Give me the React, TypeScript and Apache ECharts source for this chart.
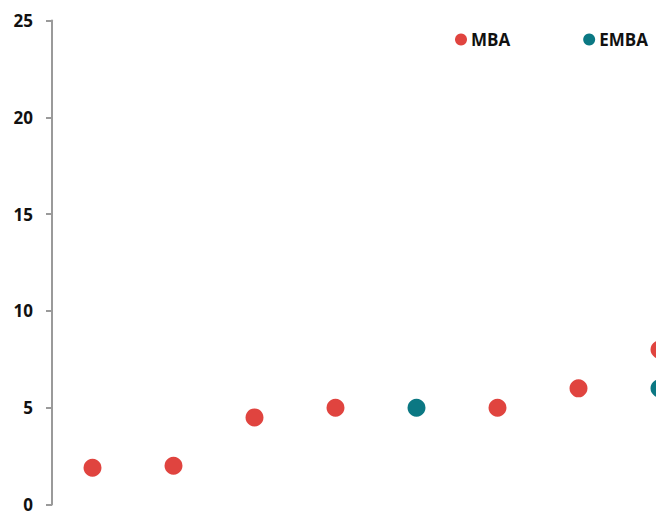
import React, { useEffect, useRef } from "react";
import * as echarts from "echarts";

const categories = [1, 2, 3, 4, 5, 6, 7, 8];
const mbaValues: (number | null)[] = [1.9, 2.0, 4.5, 5.0, null, 5.0, 6.0, 8.0];
const embaValues: (number | null)[] = [null, null, null, null, 5.0, null, null, 6.0];
const yTicks = { min: 0, max: 25, interval: 5 };

const RED = "#E0443F";
const TEAL = "#0B7883";

const toPairs = (vals: (number | null)[]) =>
  categories.map((c, i) => (vals[i] == null ? null : [c, vals[i]])).filter((d) => d !== null);

export default function App() {
  const ref = useRef<HTMLDivElement>(null);
  useEffect(() => {
    document.body.style.margin = "0";
    const chart = echarts.init(ref.current!, null, { renderer: "svg" });
    const FONT = "Open Sans";
    chart.setOption({
      animation: false,
      textStyle: { fontFamily: FONT },
      legend: {
        left: 450,
        top: 26,
        icon: "circle",
        itemWidth: 12,
        itemHeight: 12,
        itemGap: 73,
        textStyle: { fontSize: 17, fontWeight: "bold", color: "#111", fontFamily: FONT, padding: [0, 0, 0, -1] },
        data: ["MBA", "EMBA"],
      },
      grid: { left: 52, top: 20.5, right: 0, height: 486.5, containLabel: false },
      xAxis: {
        type: "value",
        min: 0.5,
        max: 0.5 + 604 / 81,
        axisLine: { show: false },
        axisTick: { show: false },
        axisLabel: { show: false },
        splitLine: { show: false },
      },
      yAxis: {
        type: "value",
        min: yTicks.min,
        max: yTicks.max,
        interval: yTicks.interval,
        splitLine: { show: false },
        axisLine: { show: true, lineStyle: { color: "#9a9a9a", width: 2 } },
        axisTick: { show: true, length: 6, lineStyle: { color: "#9a9a9a", width: 2 } },
        axisLabel: { margin: 19, fontSize: 17, fontWeight: "bold", color: "#111", fontFamily: FONT },
      },
      series: [
        {
          name: "MBA",
          type: "scatter",
          data: toPairs(mbaValues),
          symbolSize: 18,
          clip: false,
          itemStyle: { color: RED, opacity: 1 },
        },
        {
          name: "EMBA",
          type: "scatter",
          data: toPairs(embaValues),
          symbolSize: 18,
          clip: false,
          itemStyle: { color: TEAL, opacity: 1 },
        },
      ],
    });
    return () => chart.dispose();
  }, []);
  return <div ref={ref} style={{ width: 656, height: 513 }} />;
}
